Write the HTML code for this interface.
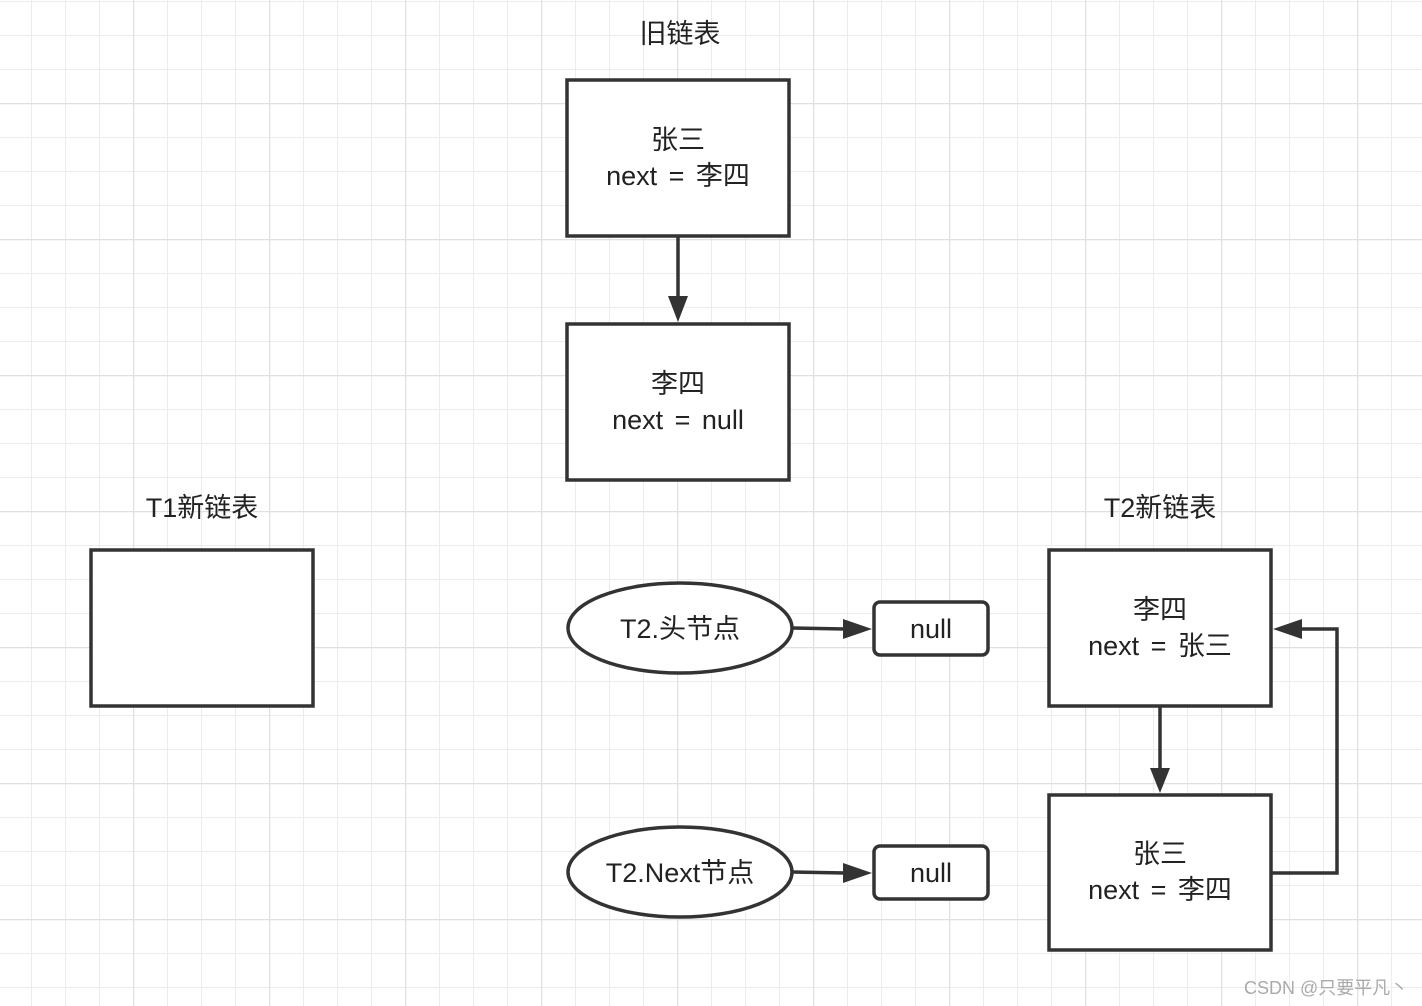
<!DOCTYPE html>
<html><head><meta charset="utf-8"><style>
html,body{margin:0;padding:0;background:#fff}
svg{display:block}
text{font-family:"Liberation Sans","Noto Sans CJK SC",sans-serif;fill:#222;font-size:27px;word-spacing:4px}
</style></head><body>
<svg width="1422" height="1006" viewBox="0 0 1422 1006" xmlns="http://www.w3.org/2000/svg">
<defs>
<pattern id="minor" x="31" y="1" width="34" height="34" patternUnits="userSpaceOnUse">
<path d="M0 0V34M0 0H34" stroke="#ececec" stroke-width="2" fill="none"/>
</pattern>
<pattern id="major" x="133" y="103" width="136" height="136" patternUnits="userSpaceOnUse">
<path d="M0 0V136M0 0H136" stroke="#e0e0e0" stroke-width="2.5" fill="none"/>
</pattern>
</defs>
<rect width="1422" height="1006" fill="#fff"/>
<rect width="1422" height="1006" fill="url(#minor)"/>
<rect width="1422" height="1006" fill="url(#major)"/>

<g stroke="#333" stroke-width="3.5" fill="#fff">
<rect x="567" y="80" width="222" height="156"/>
<rect x="567" y="324" width="222" height="156"/>
<rect x="91" y="550" width="222" height="156"/>
<rect x="1049" y="550" width="222" height="156"/>
<rect x="1049" y="795" width="222" height="155"/>
<ellipse cx="680" cy="628" rx="112" ry="45"/>
<ellipse cx="680" cy="872" rx="112" ry="45"/>
<rect x="874" y="602" width="114" height="53" rx="6"/>
<rect x="874" y="846" width="114" height="53" rx="6"/>
</g>
<g stroke="#333" stroke-width="3.5" fill="none">
<path d="M678 236V298"/>
<path d="M1160 706V770"/>
<path d="M792 628L845 629"/>
<path d="M792 872L845 873"/>
<path d="M1272 873H1337V629H1300"/>
</g>
<g fill="#333">
<path d="M668 296H688L678 322Z"/>
<path d="M1150 768H1170L1160 793Z"/>
<path d="M843 619L872 629L843 639Z"/>
<path d="M843 863L872 873L843 883Z"/>
<path d="M1302 619L1273 629L1302 639Z"/>
</g>

<g text-anchor="middle">
<text x="680" y="43">旧链表</text>
<text x="678" y="149">张三</text>
<text x="678" y="185">next = 李四</text>
<text x="678" y="393">李四</text>
<text x="678" y="429">next = null</text>
<text x="202" y="517">T1新链表</text>
<text x="1160" y="517">T2新链表</text>
<text x="1160" y="619">李四</text>
<text x="1160" y="655">next = 张三</text>
<text x="1160" y="863">张三</text>
<text x="1160" y="899">next = 李四</text>
<text x="680" y="638">T2.头节点</text>
<text x="680" y="882">T2.Next节点</text>
<text x="931" y="638">null</text>
<text x="931" y="882">null</text>
</g>
<text x="1244" y="994" style="font-size:18px;fill:#aaa;word-spacing:0">CSDN @只要平凡丶</text>
</svg>
</body></html>
